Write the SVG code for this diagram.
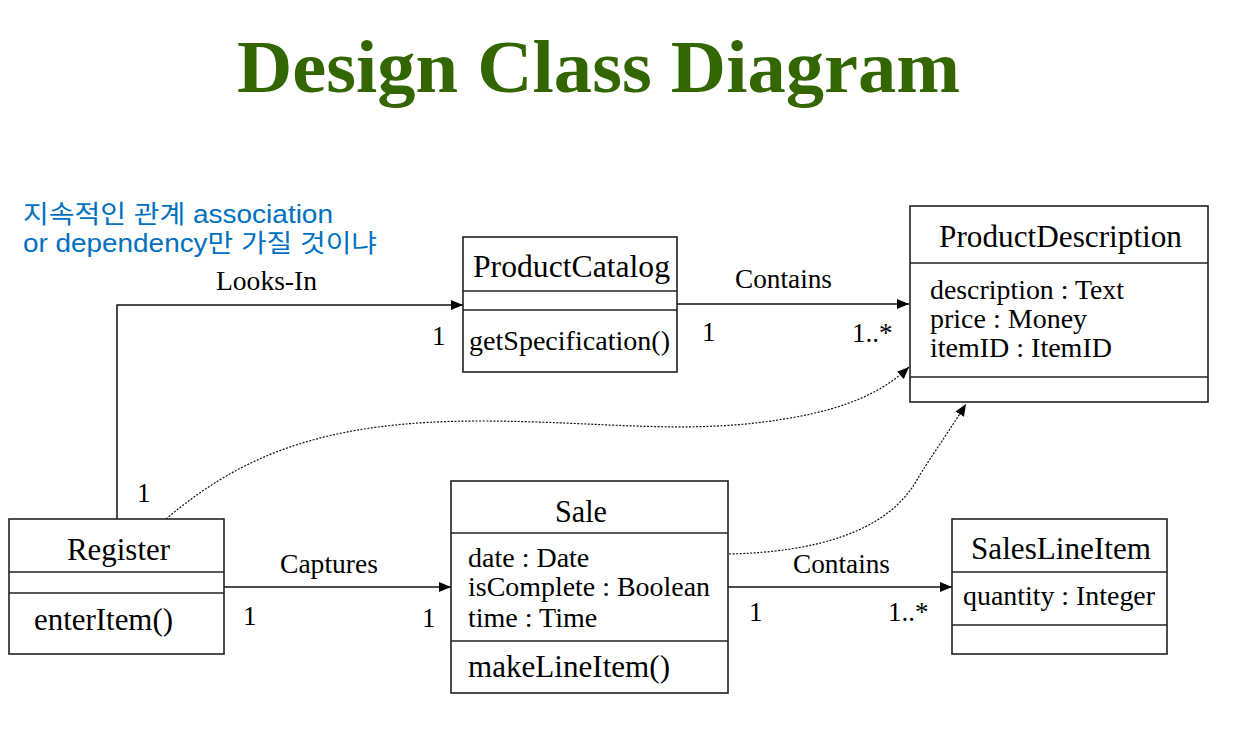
<svg xmlns="http://www.w3.org/2000/svg" width="1259" height="743" viewBox="0 0 1259 743">
<defs>
<style>
.box{fill:#fff;stroke:#222;stroke-width:1.6}
.sep{stroke:#222;stroke-width:1.6}
.t{font-family:"Liberation Serif","Times New Roman",serif;fill:#000}
.name{font-size:31px}
.attr{font-size:28px}
.lbl{font-size:27px}
.conn{fill:none;stroke:#111;stroke-width:1.5}
.dep{fill:none;stroke:#111;stroke-width:1.2;stroke-dasharray:2,1.5}
</style>
<marker id="ah" viewBox="0 0 12 10" refX="12" refY="5" markerWidth="12" markerHeight="10" markerUnits="userSpaceOnUse" orient="auto">
<path d="M0,0 L12,5 L0,10 z" fill="#000"/>
</marker>
</defs>
<rect width="1259" height="743" fill="#fff"/>
<text x="237" y="92" class="t" font-size="75" font-weight="bold" fill="#336600" style="fill:#336600" textLength="723" lengthAdjust="spacingAndGlyphs">Design Class Diagram</text>
<g id="note" font-family="'Liberation Sans','Noto Sans CJK KR',sans-serif" font-size="25" fill="#0070C0">
<text x="23" y="223" textLength="310" lengthAdjust="spacingAndGlyphs">지속적인 관계 association</text>
<text x="23" y="252" textLength="354" lengthAdjust="spacingAndGlyphs">or dependency만 가질 것이냐</text>
</g>
<g id="connectors">
<path class="conn" d="M117,519 V305 H463" marker-end="url(#ah)"/>
<path class="conn" d="M677,304 H909" marker-end="url(#ah)"/>
<path class="conn" d="M224,587 H451" marker-end="url(#ah)"/>
<path class="conn" d="M728,587 H952" marker-end="url(#ah)"/>
<path class="dep" d="M166,519 C245,452 330,421 480,421 C600,421 690,436 790,418 C850,408 885,390 909,367" marker-end="url(#ah)"/>
<path class="dep" d="M729,554 C820,552 890,530 918,478 C932,455 950,430 966,404" marker-end="url(#ah)"/>
<g class="t lbl">
<text x="216" y="290" textLength="101" lengthAdjust="spacingAndGlyphs">Looks-In</text>
<text x="432" y="345">1</text>
<text x="137" y="502">1</text>
<text x="735" y="288" textLength="97" lengthAdjust="spacingAndGlyphs">Contains</text>
<text x="702" y="341">1</text>
<text x="852" y="342">1..*</text>
<text x="280" y="573" textLength="98" lengthAdjust="spacingAndGlyphs">Captures</text>
<text x="243" y="625">1</text>
<text x="422" y="627">1</text>
<text x="793" y="573" textLength="97" lengthAdjust="spacingAndGlyphs">Contains</text>
<text x="749" y="621">1</text>
<text x="888" y="621">1..*</text>
</g>
</g>
<g id="ProductCatalog">
<rect class="box" x="463" y="237" width="214" height="135"/>
<line class="sep" x1="463" y1="291" x2="677" y2="291"/>
<line class="sep" x1="463" y1="310" x2="677" y2="310"/>
<text class="t name" x="473" y="277" textLength="197" lengthAdjust="spacingAndGlyphs">ProductCatalog</text>
<text class="t attr" x="469" y="350" textLength="201" lengthAdjust="spacingAndGlyphs">getSpecification()</text>
</g>
<g id="ProductDescription">
<rect class="box" x="910" y="206" width="298" height="196"/>
<line class="sep" x1="910" y1="263" x2="1208" y2="263"/>
<line class="sep" x1="910" y1="377" x2="1208" y2="377"/>
<text class="t name" x="939" y="247" textLength="243" lengthAdjust="spacingAndGlyphs">ProductDescription</text>
<text class="t attr" x="930" y="299" textLength="194" lengthAdjust="spacingAndGlyphs">description : Text</text>
<text class="t attr" x="930" y="328">price : Money</text>
<text class="t attr" x="930" y="357">itemID : ItemID</text>
</g>
<g id="Register">
<rect class="box" x="9" y="519" width="215" height="135"/>
<line class="sep" x1="9" y1="572" x2="224" y2="572"/>
<line class="sep" x1="9" y1="593" x2="224" y2="593"/>
<text class="t name" x="67" y="560" textLength="103" lengthAdjust="spacingAndGlyphs">Register</text>
<text class="t name" x="34" y="630" textLength="139" lengthAdjust="spacingAndGlyphs">enterItem()</text>
</g>
<g id="Sale">
<rect class="box" x="451" y="481" width="277" height="212"/>
<line class="sep" x1="451" y1="533" x2="728" y2="533"/>
<line class="sep" x1="451" y1="641" x2="728" y2="641"/>
<text class="t name" x="555" y="522" textLength="52" lengthAdjust="spacingAndGlyphs">Sale</text>
<text class="t attr" x="468" y="567">date : Date</text>
<text class="t attr" x="468" y="596" textLength="242" lengthAdjust="spacingAndGlyphs">isComplete : Boolean</text>
<text class="t attr" x="468" y="627">time : Time</text>
<text class="t name" x="468" y="677" textLength="202" lengthAdjust="spacingAndGlyphs">makeLineItem()</text>
</g>
<g id="SalesLineItem">
<rect class="box" x="952" y="519" width="215" height="135"/>
<line class="sep" x1="952" y1="572" x2="1167" y2="572"/>
<line class="sep" x1="952" y1="625" x2="1167" y2="625"/>
<text class="t name" x="971" y="559" textLength="180" lengthAdjust="spacingAndGlyphs">SalesLineItem</text>
<text class="t attr" x="963" y="605" textLength="192" lengthAdjust="spacingAndGlyphs">quantity : Integer</text>
</g>
</svg>
